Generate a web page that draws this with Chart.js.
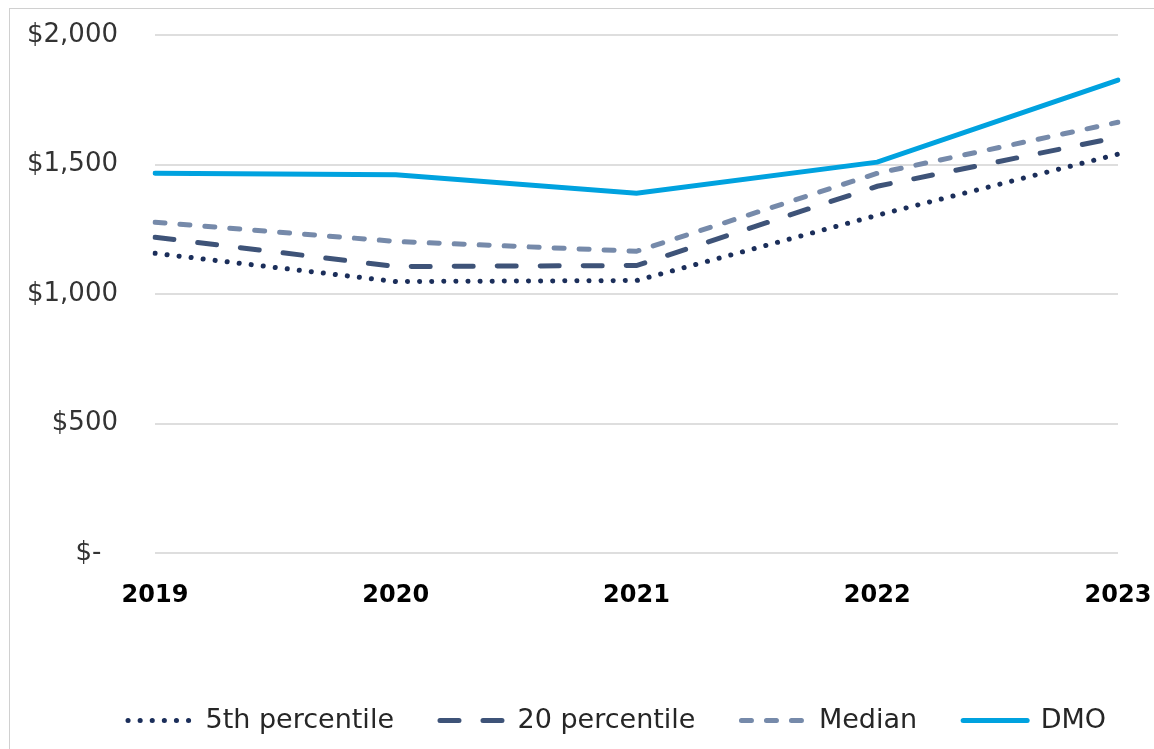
<!DOCTYPE html>
<html>
<head>
<meta charset="utf-8">
<script src="https://cdn.jsdelivr.net/npm/chart.js@4/dist/chart.umd.min.js"></script>
<style>
  html, body { margin: 0; padding: 0; background: #fff; overflow: hidden; }
  #frame { position: absolute; left: 9px; top: 8px; width: 1200px; height: 800px;
           border-left: 1px solid #d0d0d0; border-top: 1px solid #d0d0d0; }
  #chart { position: absolute; left: 0; top: 0; }
</style>
</head>
<body>
<div id="frame"></div>
<canvas id="chart" width="1234" height="749"></canvas>
<script>
// dados
const years = ['2019', '2020', '2021', '2022', '2023'];
const p5 = [1157, 1048, 1052, 1304, 1540];
const p20 = [1219, 1106, 1110, 1416, 1605];
const median = [1277, 1203, 1165, 1466, 1663];
const dmo = [1466, 1460, 1389, 1509, 1826];
const yTickValues = [0, 500, 1000, 1500, 2000];
const yTickLabels = ['$-  ', '$500', '$1,000', '$1,500', '$2,000'];

// legenda com o tracejado de cada série
function legendLabels(chart) {
  const items = Chart.defaults.plugins.legend.labels.generateLabels(chart);
  items.forEach((item) => {
    const ds = chart.data.datasets[item.datasetIndex];
    item.lineDash = ds.borderDash || [];
    item.lineWidth = ds.borderWidth;
    item.lineCap = 'round';
    item.strokeStyle = ds.borderColor;
    item.fillStyle = 'rgba(0,0,0,0)';
    item.pointStyle = 'line';
  });
  return items;
}

const ctx = document.getElementById('chart').getContext('2d');
new Chart(ctx, {
  type: 'line',
  data: {
    labels: years,
    datasets: [
      {
        label: '5th percentile',
        data: p5,
        borderColor: '#1b2e5a',
        borderWidth: 5,
        borderDash: [0.1, 12],
        borderCapStyle: 'round',
        pointRadius: 0,
        order: 4,
      },
      {
        label: '20 percentile',
        data: p20,
        borderColor: '#3e5378',
        borderWidth: 5,
        borderDash: [19, 24],
        borderCapStyle: 'round',
        pointRadius: 0,
        order: 3,
      },
      {
        label: 'Median',
        data: median,
        borderColor: '#768aaa',
        borderWidth: 5,
        borderDash: [10, 15],
        borderCapStyle: 'round',
        pointRadius: 0,
        order: 2,
      },
      {
        label: 'DMO',
        data: dmo,
        borderColor: '#00a2df',
        borderWidth: 5,
        borderCapStyle: 'round',
        pointRadius: 0,
        order: 1,
      },
    ],
  },
  options: {
    responsive: false,
    animation: false,
    layout: {
      padding: { left: 0, right: 0, top: 35, bottom: 5 },
    },
    plugins: {
      tooltip: { enabled: false },
      legend: {
        position: 'bottom',
        labels: {
          usePointStyle: true,
          pointStyle: 'line',
          pointStyleWidth: 64,
          padding: 46,
          color: '#262626',
          font: { family: 'DejaVu Sans', size: 27 },
          generateLabels: legendLabels,
          sort: (a, b) => a.datasetIndex - b.datasetIndex,
        },
      },
    },
    scales: {
      x: {
        offset: false,
        grid: { display: true, drawOnChartArea: false, drawTicks: true, tickLength: 28, tickColor: 'rgba(0,0,0,0)' },
        border: { display: false },
        ticks: {
          color: '#000',
          padding: 0,
          maxRotation: 0,
          font: { family: 'DejaVu Sans', size: 24, weight: 'bold' },
        },
        afterFit: (axis) => { axis.height = 108; },
      },
      y: {
        min: 0,
        max: 2000,
        afterBuildTicks: (axis) => { axis.ticks = yTickValues.map((v) => ({ value: v })); },
        grid: { color: '#dedede', lineWidth: 2, drawTicks: true, tickLength: 37, tickColor: 'rgba(0,0,0,0)' },
        border: { display: false },
        ticks: {
          color: '#333',
          padding: 0,
          font: { family: 'DejaVu Sans', size: 26 },
          callback: (value) => yTickLabels[yTickValues.indexOf(value)],
        },
        afterFit: (axis) => { axis.width = 155; },
      },
      // eixo vazio à direita, só para centrar a legenda como no original
      yRight: {
        position: 'right',
        min: 0,
        max: 1,
        grid: { display: false },
        border: { display: false },
        ticks: { display: false },
        afterFit: (axis) => { axis.width = 116; },
      },
    },
  },
});
</script>
</body>
</html>
